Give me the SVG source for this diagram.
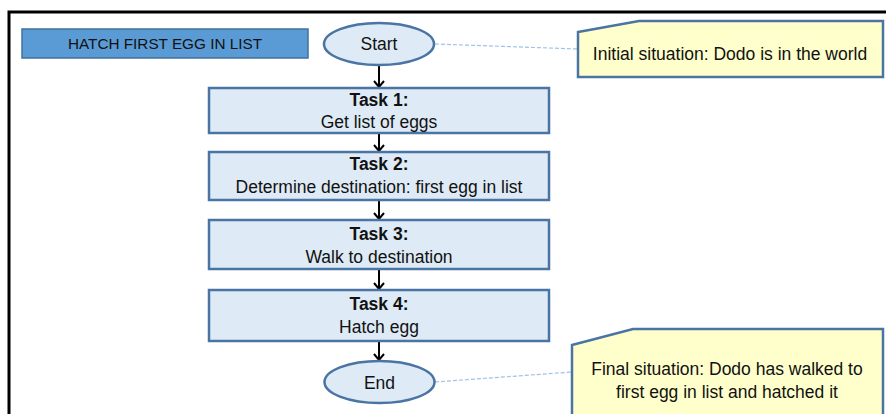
<svg xmlns="http://www.w3.org/2000/svg" width="886" height="414" viewBox="0 0 886 414">
<style>
text{font-family:"Liberation Sans",Arial,sans-serif;fill:#111;}
.box{fill:#DEEAF6;stroke:#4A74A3;stroke-width:2.5;}
.note{fill:#FFFFCC;stroke:#4A74A3;stroke-width:2.5;}
.t{font-size:17.5px;text-anchor:middle;}
.h{font-size:15.3px;text-anchor:middle;}
.b{font-weight:bold;}
.arrow{stroke:#000;stroke-width:2;fill:none;marker-end:url(#ah);}
.dash{stroke:#9DC3E6;stroke-width:1.2;stroke-dasharray:4 2;fill:none;}
</style>
<defs>
<marker id="ah" markerWidth="12" markerHeight="12" refX="10" refY="6" orient="auto" markerUnits="userSpaceOnUse" viewBox="0 0 12 12">
<path d="M4,1 L10,6 L4,11" fill="none" stroke="#000" stroke-width="2"/>
</marker>
</defs>
<rect width="886" height="414" fill="#fff"/>
<path d="M9,414 V12 H886" fill="none" stroke="#000" stroke-width="3"/>
<g id="title">
<rect x="22" y="29" width="286" height="29" fill="#5B9BD5" stroke="#41719C" stroke-width="1.5"/>
<text class="h" x="165" y="49">HATCH FIRST EGG IN LIST</text>
</g>
<g id="connectors">
<line class="arrow" x1="379" y1="65" x2="379" y2="87"/>
<line class="arrow" x1="379" y1="134" x2="379" y2="151"/>
<line class="arrow" x1="379" y1="201" x2="379" y2="219"/>
<line class="arrow" x1="379" y1="270" x2="379" y2="289"/>
<line class="arrow" x1="379" y1="342" x2="379" y2="360"/>
<line class="dash" x1="435" y1="44" x2="578" y2="49"/>
<line class="dash" x1="435" y1="382" x2="572" y2="372"/>
</g>
<g id="start">
<ellipse class="box" cx="379" cy="44" rx="55" ry="21"/>
<text class="t" x="379" y="50">Start</text>
</g>
<g id="task1">
<rect class="box" x="209" y="88" width="340" height="45"/>
<text class="t b" x="379" y="106">Task 1:</text>
<text class="t" x="379" y="128">Get list of eggs</text>
</g>
<g id="task2">
<rect class="box" x="209" y="152" width="340" height="48"/>
<text class="t b" x="379" y="170">Task 2:</text>
<text class="t" x="379" y="193">Determine destination: first egg in list</text>
</g>
<g id="task3">
<rect class="box" x="209" y="220" width="340" height="49"/>
<text class="t b" x="379" y="240">Task 3:</text>
<text class="t" x="379" y="263">Walk to destination</text>
</g>
<g id="task4">
<rect class="box" x="209" y="290" width="340" height="51"/>
<text class="t b" x="379" y="310">Task 4:</text>
<text class="t" x="379" y="333">Hatch egg</text>
</g>
<g id="end">
<ellipse class="box" cx="379.5" cy="382" rx="55" ry="21"/>
<text class="t" x="379.5" y="389">End</text>
</g>
<g id="initial">
<path class="note" d="M578,32 L639,21 H883 V77 H578 Z"/>
<text class="t" x="730" y="60">Initial situation: Dodo is in the world</text>
</g>
<g id="final">
<path class="note" d="M572,345 L633,329 H883 V420 H572 Z"/>
<text class="t" x="727" y="375">Final situation: Dodo has walked to</text>
<text class="t" x="727" y="398">first egg  in list and hatched it</text>
</g>
</svg>
